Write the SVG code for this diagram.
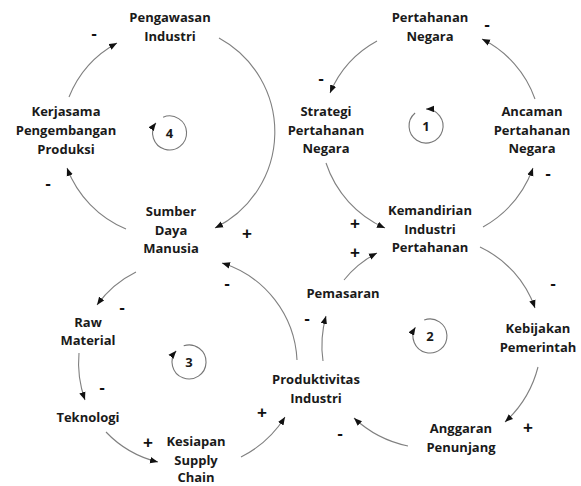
<svg xmlns="http://www.w3.org/2000/svg" width="581" height="486" viewBox="0 0 581 486">
<defs>
<marker id="ah" viewBox="0 0 10 8" refX="10" refY="4" markerWidth="8" markerHeight="7" markerUnits="userSpaceOnUse" orient="auto">
<path d="M0,0 L10,4 L0,8 z" fill="#111"/>
</marker>
<style>
.lbl{font-family:"Open Sans","Noto Sans","Liberation Sans",sans-serif;font-weight:700;font-size:13px;fill:#1a1a1a;text-anchor:middle}
.sgn{font-family:"Liberation Sans",Arial,sans-serif;font-weight:700;font-size:17px;fill:#111;text-anchor:middle}
.num{font-family:"Open Sans","Noto Sans","Liberation Sans",sans-serif;font-weight:700;font-size:13px;fill:#1a1a1a;text-anchor:middle}
.ln{fill:none;stroke:#808080;stroke-width:1.1;marker-end:url(#ah)}
.loop{fill:none;stroke:#777;stroke-width:1.1;marker-end:url(#ah)}
</style>
</defs>
<rect width="581" height="486" fill="#fff"/>

<g id="connectors">
<!-- loop 4 -->
<path class="ln" d="M219,38 A107,107 0 0 1 215,228"/>
<path class="ln" d="M69,97 A107,107 0 0 1 117,43"/>
<path class="ln" d="M126,229 A107,107 0 0 1 67,168"/>
<!-- loop 1 -->
<path class="ln" d="M377,41 A106,106 0 0 0 330,93"/>
<path class="ln" d="M535,99 A106,106 0 0 0 482,39"/>
<path class="ln" d="M483,227 A112,112 0 0 0 533,168"/>
<path class="ln" d="M326,163 A108,108 0 0 0 385,228"/>
<!-- loop 2 -->
<path class="ln" d="M480,247 A106,106 0 0 1 535,308"/>
<path class="ln" d="M538,367 A112,112 0 0 1 505,422"/>
<path class="ln" d="M408,446 A112,112 0 0 1 354,418"/>
<path class="ln" d="M323,361 A109,109 0 0 1 326,316"/>
<path class="ln" d="M344,280 A102,102 0 0 1 377,253"/>
<!-- loop 3 -->
<path class="ln" d="M136,272 A106,106 0 0 0 97,305"/>
<path class="ln" d="M79,353 A110,110 0 0 0 85,400"/>
<path class="ln" d="M106,432 A106,106 0 0 0 158,462"/>
<path class="ln" d="M241,457 A110,110 0 0 0 285,417"/>
<path class="ln" d="M297,360 A107,107 0 0 0 222,263"/>
</g>

<g id="loop1">
<path class="loop" d="M415.1,113 A17,17 0 1 0 426,109"/>
<text class="num" x="426" y="131">1</text>
</g>
<g id="loop2">
<path class="loop" d="M424.2,320 A17,17 0 1 1 415.4,327.2"/>
<text class="num" x="430" y="341">2</text>
</g>
<g id="loop3">
<path class="loop" d="M183.7,345.8 A17,17 0 1 1 176.2,350.8"/>
<text class="num" x="189" y="367">3</text>
</g>
<g id="loop4">
<path class="loop" d="M163.1,117.2 A17,17 0 1 1 155.9,122.8"/>
<text class="num" x="169.5" y="138">4</text>
</g>

<g id="pengawasan"><text class="lbl" x="170" y="22">Pengawasan</text><text class="lbl" x="170" y="41">Industri</text></g>
<g id="kerjasama"><text class="lbl" x="66" y="116">Kerjasama</text><text class="lbl" x="66" y="135">Pengembangan</text><text class="lbl" x="66" y="154">Produksi</text></g>
<g id="sdm"><text class="lbl" x="171" y="216">Sumber</text><text class="lbl" x="171" y="235">Daya</text><text class="lbl" x="171" y="253">Manusia</text></g>
<g id="pertahanan"><text class="lbl" x="430" y="22">Pertahanan</text><text class="lbl" x="430" y="41">Negara</text></g>
<g id="strategi"><text class="lbl" x="326" y="116">Strategi</text><text class="lbl" x="326" y="135">Pertahanan</text><text class="lbl" x="326" y="153">Negara</text></g>
<g id="ancaman"><text class="lbl" x="532" y="116">Ancaman</text><text class="lbl" x="532" y="135">Pertahanan</text><text class="lbl" x="532" y="153">Negara</text></g>
<g id="kemandirian"><text class="lbl" x="430" y="215">Kemandirian</text><text class="lbl" x="430" y="234">Industri</text><text class="lbl" x="430" y="252">Pertahanan</text></g>
<g id="pemasaran"><text class="lbl" x="343" y="298">Pemasaran</text></g>
<g id="kebijakan"><text class="lbl" x="538" y="333">Kebijakan</text><text class="lbl" x="538" y="352">Pemerintah</text></g>
<g id="anggaran"><text class="lbl" x="461" y="433">Anggaran</text><text class="lbl" x="461" y="452">Penunjang</text></g>
<g id="produktivitas"><text class="lbl" x="316" y="384">Produktivitas</text><text class="lbl" x="316" y="403">Industri</text></g>
<g id="raw"><text class="lbl" x="88" y="327">Raw</text><text class="lbl" x="88" y="345">Material</text></g>
<g id="teknologi"><text class="lbl" x="88" y="422">Teknologi</text></g>
<g id="kesiapan"><text class="lbl" x="196" y="446">Kesiapan</text><text class="lbl" x="196" y="465">Supply</text><text class="lbl" x="196" y="482">Chain</text></g>

<g id="signs">
<text class="sgn" x="94" y="39">-</text>
<text class="sgn" x="48" y="189">-</text>
<text class="sgn" x="247" y="239">+</text>
<text class="sgn" x="487" y="30">-</text>
<text class="sgn" x="321" y="84">-</text>
<text class="sgn" x="548" y="179">-</text>
<text class="sgn" x="355" y="229">+</text>
<text class="sgn" x="355" y="258">+</text>
<text class="sgn" x="553" y="289">-</text>
<text class="sgn" x="528" y="433">+</text>
<text class="sgn" x="340" y="439">-</text>
<text class="sgn" x="307" y="324">-</text>
<text class="sgn" x="227" y="289">-</text>
<text class="sgn" x="122" y="313">-</text>
<text class="sgn" x="102" y="393">-</text>
<text class="sgn" x="148" y="448">+</text>
<text class="sgn" x="262" y="418">+</text>
</g>
</svg>
